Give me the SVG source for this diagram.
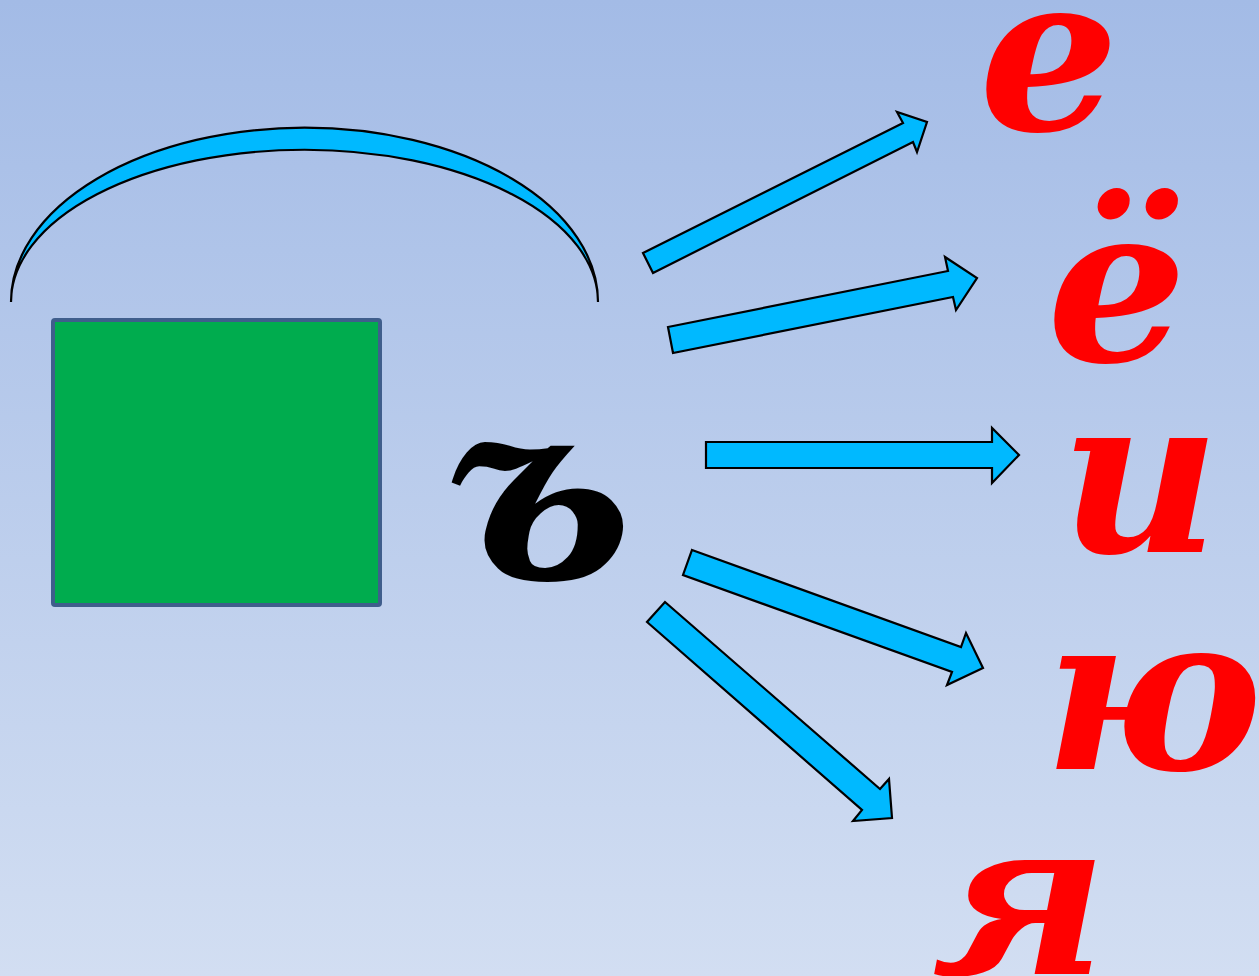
<svg xmlns="http://www.w3.org/2000/svg" width="1259" height="976" viewBox="0 0 1259 976">
<defs>
<linearGradient id="bg" x1="0" y1="0" x2="0" y2="1">
<stop offset="0" stop-color="#A3BBE6"/>
<stop offset="1" stop-color="#D2DEF2"/>
</linearGradient>
</defs>
<style>
.arr{fill:#00B9FF;stroke:#000;stroke-width:2.2;stroke-linejoin:miter}
.let{font-family:"DejaVu Serif",serif;font-weight:bold;font-style:italic;fill:#FF0000}
.hard{font-family:"DejaVu Serif",serif;font-weight:bold;font-style:italic;fill:#000}
</style>
<rect width="1259" height="976" fill="url(#bg)"/>
<g id="arc">
<path class="arr" d="M11 302 A293 174 0 0 1 598 302 A293 152 0 0 0 11 302 Z"/>
</g>
<g id="square">
<rect x="53" y="320" width="327" height="285" rx="2" fill="#00AC4E" stroke="#3F5E8C" stroke-width="4"/>
</g>
<g id="hard-sign">
<text class="hard" x="447" y="578" font-size="255">ъ</text>
</g>
<g id="connectors">
<polygon class="arr" points="643,253 903,123 897,112 927,122 917,152 913,142 653,273"/>
<polygon class="arr" points="668,327 948,271 945,257 977,278 956,310 953,297 673,353"/>
<polygon class="arr" points="706,442 992,442 992,428 1019,455 992,483 992,468 706,468"/>
<polygon class="arr" points="692,550 961,647 966,633 983,668 947,685 952,672 683,575"/>
<polygon class="arr" points="665,602 880,789 889,779 892,818 853,821 862,810 647,622"/>
</g>
<g id="letter-e"><text class="let" x="979" y="130" font-size="220">е</text></g>
<g id="letter-yo"><text class="let" x="1047" y="361" font-size="220">ё</text></g>
<g id="letter-i"><text class="let" x="1060" y="552" font-size="220">и</text></g>
<g id="letter-yu"><text class="let" x="1044" y="769" font-size="218">ю</text></g>
<g id="letter-ya"><text class="let" x="932" y="974" font-size="220">я</text></g>
</svg>
